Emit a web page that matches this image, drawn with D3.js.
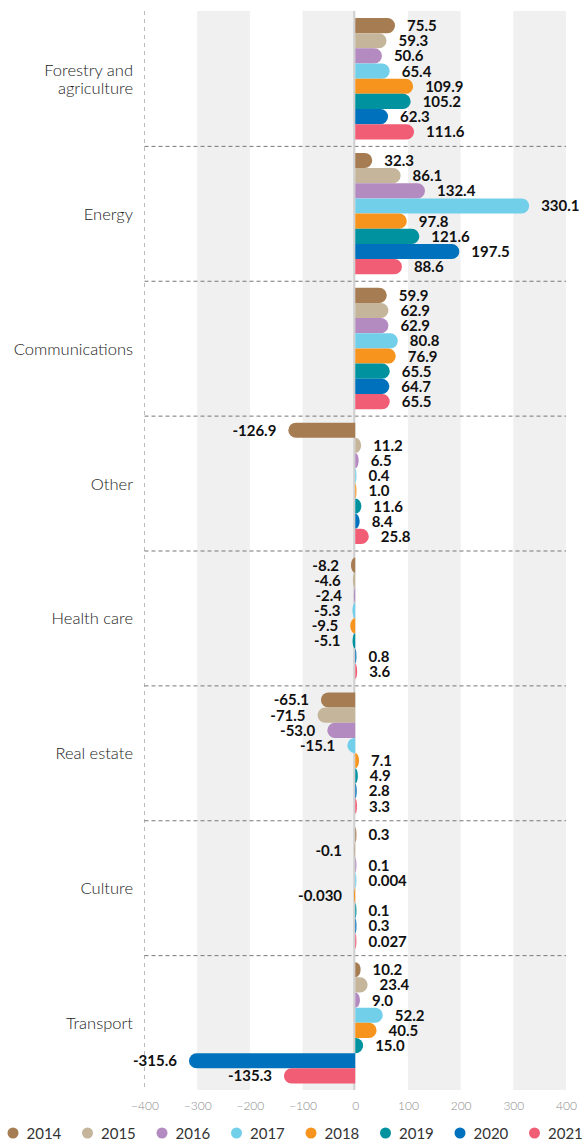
<!DOCTYPE html>
<html>
<head>
<meta charset="utf-8">
<script src="https://cdn.jsdelivr.net/npm/d3@7"></script>
<style>
  html, body { margin: 0; padding: 0; background: #fff; }
  svg { display: block; font-family: Lato, "Open Sans", sans-serif; }
</style>
</head>
<body>
<svg id="chart" width="584" height="1140"></svg>
<script>
// Sectors, top to bottom
const categories = ["Forestry and agriculture", "Energy", "Communications", "Other",
  "Health care", "Real estate", "Culture", "Transport"];

const years = ["2014", "2015", "2016", "2017", "2018", "2019", "2020", "2021"];

// One value per sector for each year, same order as categories
const v2014 = [75.5, 32.3, 59.9, -126.9, -8.2, -65.1, 0.3, 10.2];
const v2015 = [59.3, 86.1, 62.9, 11.2, -4.6, -71.5, -0.1, 23.4];
const v2016 = [50.6, 132.4, 62.9, 6.5, -2.4, -53.0, 0.1, 9.0];
const v2017 = [65.4, 330.1, 80.8, 0.4, -5.3, -15.1, 0.004, 52.2];
const v2018 = [109.9, 97.8, 76.9, 1.0, -9.5, 7.1, -0.030, 40.5];
const v2019 = [105.2, 121.6, 65.5, 11.6, -5.1, 4.9, 0.1, 15.0];
const v2020 = [62.3, 197.5, 64.7, 8.4, 0.8, 2.8, 0.3, -315.6];
const v2021 = [111.6, 88.6, 65.5, 25.8, 3.6, 3.3, 0.027, -135.3];

const seriesValues = [v2014, v2015, v2016, v2017, v2018, v2019, v2020, v2021];

const colors = ["#a67c52", "#c4b59b", "#b38bc0", "#72cfea", "#f7941d", "#00929f", "#0071bc", "#f05d75"];

const tickValues = [-400, -300, -200, -100, 0, 100, 200, 300, 400];

const svg = d3.select("#chart");

const plotTop = 11, plotBottom = 1090;
const x = d3.scaleLinear().domain([-400, 400]).range([144.5, 566]);
const y = d3.scaleBand().domain(categories).range([plotTop, plotBottom]).padding(0);
const yInner = d3.scaleBand().domain(years).range([7, y.bandwidth() - 6.5]).padding(0);

// Alternating grey column bands
svg.append("g").selectAll("rect")
  .data([-300, -100, 100, 300])
  .join("rect")
  .attr("x", d => x(d))
  .attr("y", plotTop)
  .attr("width", d => x(d + 100) - x(d))
  .attr("height", plotBottom - plotTop)
  .attr("fill", "#f0f0f0");

// Left dashed edge
svg.append("line")
  .attr("x1", x(-400)).attr("x2", x(-400))
  .attr("y1", plotTop).attr("y2", plotBottom)
  .attr("stroke", "#bbb").attr("stroke-width", 1)
  .attr("stroke-dasharray", "4,4");

// Dashed separators between sectors
svg.append("g").selectAll("line")
  .data(categories.slice(1))
  .join("line")
  .attr("x1", x(-400)).attr("x2", x(400))
  .attr("y1", d => y(d) + 0.5).attr("y2", d => y(d) + 0.5)
  .attr("stroke", "#777").attr("stroke-width", 1)
  .attr("stroke-dasharray", "4,3");

// Zero line
svg.append("line")
  .attr("x1", x(0) - 1).attr("x2", x(0) - 1)
  .attr("y1", plotTop).attr("y2", plotBottom)
  .attr("stroke", "#cfcfcf").attr("stroke-width", 2);

// Bar shape: square at zero, rounded at the value end
function barPath(x0, x1, yTop, h) {
  const sign = x1 >= x0 ? 1 : -1;
  let w = Math.abs(x1 - x0);
  w = Math.max(w, 1.2);
  const end = x0 + sign * w;
  const ry = h / 2;
  const r = Math.min(ry, w);
  const sweep = sign > 0 ? 1 : 0;
  return `M${x0},${yTop}` +
    `L${end - sign * r},${yTop}` +
    `A${r},${ry} 0 0 ${sweep} ${end},${yTop + ry}` +
    `A${r},${ry} 0 0 ${sweep} ${end - sign * r},${yTop + h}` +
    `L${x0},${yTop + h}Z`;
}

const fmt = v => (v !== 0 && Math.abs(v) < 0.05) ? v.toFixed(3) : v.toFixed(1);

const rows = [];
categories.forEach((c, ci) => {
  years.forEach((yr, yi) => {
    rows.push({ category: c, year: yr, yi, value: seriesValues[yi][ci] });
  });
});

const bars = svg.append("g");
bars.selectAll("path")
  .data(rows)
  .join("path")
  .attr("d", d => barPath(x(0), x(d.value), y(d.category) + yInner(d.year), yInner.bandwidth()))
  .attr("fill", d => colors[d.yi]);

// Value labels
svg.append("g").selectAll("text")
  .data(rows)
  .join("text")
  .attr("x", d => {
    const w = Math.max(Math.abs(x(d.value) - x(0)), 1.2);
    return d.value >= 0 ? x(0) + w + 12 : x(0) - w - 12;
  })
  .attr("y", d => y(d.category) + yInner(d.year) + yInner.bandwidth() / 2 + 5.5)
  .attr("text-anchor", d => d.value >= 0 ? "start" : "end")
  .attr("font-size", 15)
  .attr("font-weight", 700)
  .attr("fill", "#111")
  .text(d => fmt(d.value));

// Sector labels
const catLabels = svg.append("g").selectAll("text")
  .data(categories)
  .join("text")
  .attr("text-anchor", "end")
  .attr("font-size", 16.5)
  .attr("font-weight", 300)
  .attr("fill", "#222");

catLabels.each(function (d) {
  const lines = d === "Forestry and agriculture" ? ["Forestry and", "agriculture"] : [d];
  const cy = y(d) + y.bandwidth() / 2 + 1;
  const lh = 18;
  const t = d3.select(this);
  lines.forEach((ln, i) => {
    t.append("tspan")
      .attr("x", 133)
      .attr("y", cy - (lines.length - 1) * lh / 2 + i * lh + 5.5)
      .text(ln);
  });
});

// Axis
const axis = svg.append("g")
  .attr("transform", `translate(0,${1101})`)
  .call(d3.axisBottom(x).tickValues(tickValues).tickSize(0).tickPadding(0).tickFormat(d3.format("d")));
axis.select(".domain").remove();
axis.selectAll("text")
  .attr("font-family", "Lato, sans-serif")
  .attr("font-size", 12)
  .attr("font-weight", 300)
  .attr("fill", "#8a8a8a");

// Legend
const legend = svg.append("g").attr("transform", "translate(0,1133)");
const item = legend.selectAll("g")
  .data(years)
  .join("g")
  .attr("transform", (d, i) => `translate(${13 + i * 74.5},0)`);
item.append("circle")
  .attr("r", 5.5)
  .attr("fill", (d, i) => colors[i]);
item.append("text")
  .attr("x", 13.5)
  .attr("y", 5.5)
  .attr("font-size", 15)
  .attr("fill", "#333")
  .text(d => d);
</script>
</body>
</html>
